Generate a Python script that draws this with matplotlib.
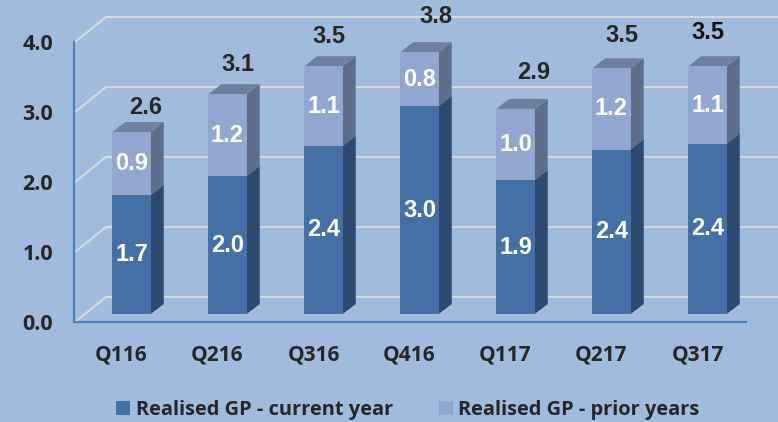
import matplotlib
matplotlib.use("Agg")
import matplotlib.pyplot as plt
from matplotlib.patches import Polygon
from matplotlib.lines import Line2D
import numpy as np

# ---- data ----
quarters = ["Q116", "Q216", "Q316", "Q416", "Q117", "Q217", "Q317"]
current_year = [1.70, 1.97, 2.40, 2.97, 1.91, 2.35, 2.43]
prior_years = [0.90, 1.17, 1.14, 0.77, 1.02, 1.16, 1.11]
total_labels = ["2.6", "3.1", "3.5", "3.8", "2.9", "3.5", "3.5"]
y_ticks = [0.0, 1.0, 2.0, 3.0, 4.0]

# ---- layout (pixels of the 778x422 canvas) ----
W, H = 778, 422
BG = "#A0BBDB"
AX_L, AX_R, AX_B, AX_T = 74, 746, 322, 42
PX_X, PX_Y = 96.0, 70.0            # pixels per category / per value unit
BAR_W = 38.5 / PX_X
BAR_LIFT = 8 / PX_Y                # floor offset of the bars inside the 3-D box
DEPTH_X, DEPTH_Y = 13 / PX_X, 10 / PX_Y
WALL_X, WALL_Y = 32 / PX_X, 25 / PX_Y
total_dx = [14, 10, 5, 16, 18, 10, 0]   # pixel nudges of the total labels
total_dy = [25, 30, 30, 36, 36, 33, 34]

C_CUR = dict(front="#4470A6", side="#2C4A70", top="#37587F")
C_PRI = dict(front="#92A7CF", side="#5E6E8A", top="#6E7F9F")
TXT = "#262626"
LABEL_FONT = ["Open Sans", "DejaVu Sans"]
NARROW = ["Liberation Sans"]

fig = plt.figure(figsize=(W / 100, H / 100), dpi=100, facecolor=BG)
ax = fig.add_axes([AX_L / W, 1 - AX_B / H, (AX_R - AX_L) / W, (AX_B - AX_T) / H], facecolor="none")
x0 = (AX_L - 131.5) / PX_X
ax.set_xlim(x0, x0 + (AX_R - AX_L) / PX_X)
ax.set_ylim(0, 4)

# gridlines of the 3-D box
x_far = x0 + (W - AX_L) / PX_X
for v in y_ticks:
    ax.add_line(Line2D([x0 + 1 / PX_X, x0 + WALL_X, x_far], [v, v + WALL_Y, v + WALL_Y],
                       color="#D2D8DE", lw=1.5, clip_on=False, zorder=1))

x = np.arange(len(quarters))
cur = np.array(current_year)
pri = np.array(prior_years)


def bars(bottom, height, colors, label):
    base = bottom + BAR_LIFT
    for xi, b, h in zip(x, base, height):
        r = xi + BAR_W / 2
        l = xi - BAR_W / 2
        ax.add_patch(Polygon([(r, b), (r + DEPTH_X, b + DEPTH_Y), (r + DEPTH_X, b + h + DEPTH_Y), (r, b + h)],
                             fc=colors["side"], ec="none", clip_on=False, zorder=3))
        ax.add_patch(Polygon([(l, b + h), (r, b + h), (r + DEPTH_X, b + h + DEPTH_Y), (l + DEPTH_X, b + h + DEPTH_Y)],
                             fc=colors["top"], ec="none", clip_on=False, zorder=3))
    return ax.bar(x, height, BAR_W, bottom=base, color=colors["front"], label=label, zorder=4, clip_on=False)


b1 = bars(np.zeros_like(cur), cur, C_CUR, "Realised GP - current year")
b2 = bars(cur, pri, C_PRI, "Realised GP - prior years")

for xi, c, p, t, dx, dy in zip(x, cur, pri, total_labels, total_dx, total_dy):
    ax.text(xi, BAR_LIFT + c / 2, f"{c:.1f}", color="white", fontsize=17, fontweight="bold",
            family=NARROW, ha="center", va="center", zorder=5)
    ax.text(xi, BAR_LIFT + c + p / 2, f"{p:.1f}", color="white", fontsize=17, fontweight="bold",
            family=NARROW, ha="center", va="center", zorder=5)
    ax.text(xi + dx / PX_X, BAR_LIFT + c + p + dy / PX_Y, t, color="#111111" if xi == 6 else TXT,
            fontsize=17, fontweight="bold", family=NARROW, ha="center", va="center", zorder=5, clip_on=False)

for s in ("top", "right"):
    ax.spines[s].set_visible(False)
for s in ("left", "bottom"):
    ax.spines[s].set_color("#4F81BD")
    ax.spines[s].set_linewidth(1.6)

ax.set_yticks(y_ticks, [f"{v:.1f}" for v in y_ticks], family=LABEL_FONT, fontsize=15.5, fontweight="bold", color=TXT)
ax.set_xticks(x - 10 / PX_X, quarters, family=LABEL_FONT, fontsize=15, fontweight="bold", color=TXT)
ax.tick_params(axis="y", length=0, pad=15)
ax.tick_params(axis="x", length=0, pad=16)

fig.legend(handles=[b1, b2], loc="center", bbox_to_anchor=(408 / W, 1 - 410 / H), ncol=2, frameon=False,
           prop=dict(family=LABEL_FONT, size=14.4, weight="bold"), labelcolor=TXT,
           handlelength=0.7, handleheight=0.7, handletextpad=0.3, columnspacing=2.25,
           borderpad=0, borderaxespad=0)

fig.savefig("out.png", dpi=100, facecolor=BG)
